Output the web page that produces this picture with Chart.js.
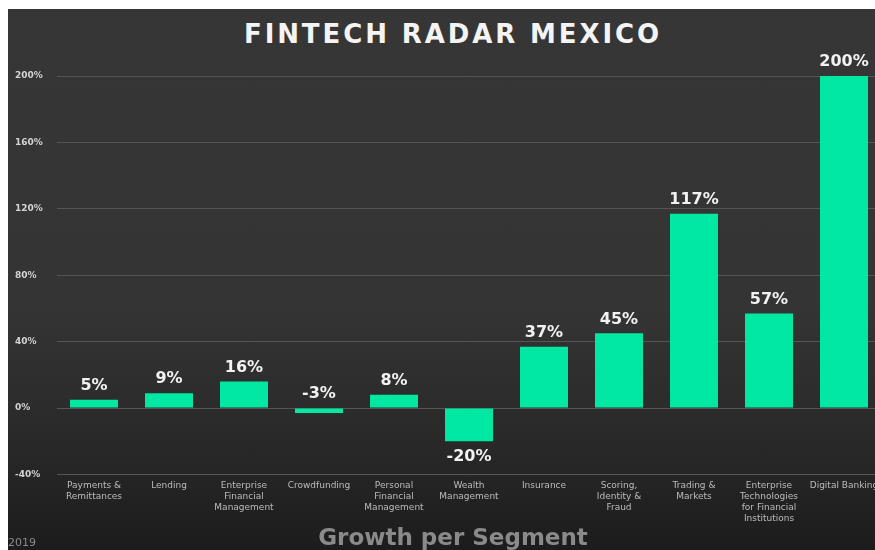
<!DOCTYPE html>
<html>
<head>
<meta charset="utf-8">
<script src="https://cdn.jsdelivr.net/npm/chart.js@4.4.1/dist/chart.umd.min.js"></script>
<style>
  html, body { margin: 0; padding: 0; background: #ffffff; width: 875px; height: 550px; overflow: hidden; }
  #panel {
    position: absolute; left: 8px; top: 9px; width: 900px; height: 541px;
    background: linear-gradient(to bottom, #363636 0%, #343434 55%, #2a2a2a 78%, #1c1c1c 100%);
    overflow: hidden;
  }
  #title {
    position: absolute; left: 0; top: 10px; width: 890px; text-align: center;
    font-family: "DejaVu Sans", sans-serif; font-weight: bold; font-size: 26px;
    letter-spacing: 2.9px; color: #f4f4f4;
  }
  #subtitle {
    position: absolute; left: 0; top: 515px; width: 890px; text-align: center;
    font-family: "DejaVu Sans", sans-serif; font-weight: bold; font-size: 23px;
    color: #8a8a8a;
  }
  #year {
    position: absolute; left: 0px; top: 527px;
    font-family: "DejaVu Sans", sans-serif; font-size: 11px; color: #8a8a8a;
  }
  #wrap { position: absolute; left: 0; top: 0; width: 900px; height: 541px; }
</style>
</head>
<body>
<div id="panel">
  <div id="title">FINTECH RADAR MEXICO</div>
  <div id="wrap"><canvas id="c"></canvas></div>
  <div id="subtitle">Growth per Segment</div>
  <div id="year">2019</div>
</div>
<script>
const categories = [
  ["Payments &", "Remittances"],
  ["Lending"],
  ["Enterprise", "Financial", "Management"],
  ["Crowdfunding"],
  ["Personal", "Financial", "Management"],
  ["Wealth", "Management"],
  ["Insurance"],
  ["Scoring,", "Identity &", "Fraud"],
  ["Trading &", "Markets"],
  ["Enterprise", "Technologies", "for Financial", "Institutions"],
  ["Digital Banking"]
];
const growth = [5, 9, 16, -3, 8, -20, 37, 45, 117, 57, 200];
const yTicks = [-40, 0, 40, 80, 120, 160, 200];

const labelPlugin = {
  id: 'valueLabels',
  afterDatasetsDraw(chart) {
    const ctx = chart.ctx;
    const meta = chart.getDatasetMeta(0);
    const yScale = chart.scales.y;
    const zeroY = yScale.getPixelForValue(0);
    ctx.save();
    ctx.font = 'bold 16px "DejaVu Sans", sans-serif';
    ctx.fillStyle = '#f2f2f2';
    ctx.textAlign = 'center';
    meta.data.forEach((bar, i) => {
      const v = growth[i];
      const txt = v + '%';
      if (v >= 0) {
        ctx.textBaseline = 'bottom';
        ctx.fillText(txt, bar.x, bar.y - 6);
      } else if (v > -10) {
        ctx.textBaseline = 'bottom';
        ctx.fillText(txt, bar.x, zeroY - 6);
      } else {
        ctx.textBaseline = 'top';
        ctx.fillText(txt, bar.x, bar.y + 8);
      }
    });
    ctx.restore();
  }
};

new Chart(document.getElementById('c'), {
  type: 'bar',
  data: {
    labels: categories,
    datasets: [{
      data: growth,
      backgroundColor: '#00e8a2',
      borderWidth: 0,
      categoryPercentage: 1.0,
      barPercentage: 0.64
    }]
  },
  options: {
    responsive: true,
    maintainAspectRatio: false,
    animation: false,
    layout: { padding: { left: 7, right: 26.5, top: 67, bottom: 0 } },
    plugins: { legend: { display: false }, tooltip: { enabled: false }, title: { display: false } },
    scales: {
      x: {
        grid: { display: false, drawTicks: false },
        border: { display: false },
        ticks: {
          color: '#bcbcbc',
          font: { family: '"DejaVu Sans", sans-serif', size: 9, lineHeight: 1.22 },
          padding: 6,
          maxRotation: 0,
          autoSkip: false
        },
        afterFit(scale) { scale.height = 75.5; }
      },
      y: {
        min: -40,
        max: 200,
        afterBuildTicks(scale) { scale.ticks = yTicks.map(v => ({ value: v })); },
        grid: { color: '#555555', lineWidth: 1, drawTicks: false },
        border: { display: false },
        ticks: {
          color: '#d4d4d4',
          crossAlign: 'far',
          font: { family: '"DejaVu Sans", sans-serif', size: 9, weight: 'bold' },
          callback: v => v + '%'
        },
        afterFit(scale) { scale.width = 41.5; }
      }
    }
  },
  plugins: [labelPlugin]
});
</script>
</body>
</html>
